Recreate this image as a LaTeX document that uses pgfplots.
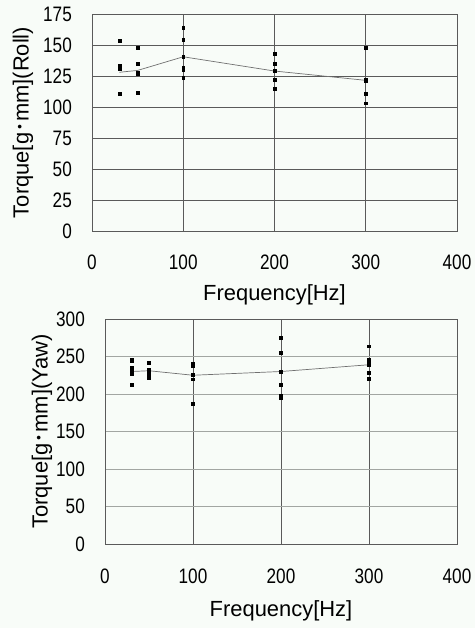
\documentclass[border=0pt]{standalone}
\usepackage{pgfplots}
\pgfplotsset{compat=1.18}
\usepackage{fontspec}
\setmainfont{Liberation Sans}
\newfontfamily\tickfont[FakeStretch=0.82]{Liberation Sans}
\newfontfamily\cjk{Noto Sans CJK JP}
\definecolor{bg}{HTML}{F8FCF8}
\definecolor{gridd}{HTML}{5A5A5A}
\definecolor{gridl}{HTML}{A2A6A2}
\definecolor{avgline}{HTML}{707070}
\pgfplotsset{
  torque/.style={
    scale only axis,
    anchor=south west,
    xmin=0, xmax=400, xtick={0,100,200,300,400},
    ymin=0,
    major tick length=0pt,
    axis line style={gridd, line width=0.7pt},
    axis background/.style={fill=bg},
    /pgf/number format/assume math mode=true,
    tick label style={font=\tickfont\fontsize{21}{21}\selectfont, inner sep=0pt},
    xticklabel style={anchor=center},
    yticklabel style={anchor=east, xshift=-20bp},
    label style={font=\fontsize{22}{22}\selectfont},
    xmajorgrids, ymajorgrids,
    xlabel={Frequency[Hz]},
  },
  pts/.style={only marks, mark=square*, mark size=1.4bp, black},
  avg/.style={avgline, line width=0.7pt, mark=none},
}
\begin{document}
\begin{tikzpicture}
\path[use as bounding box, fill=bg] (0,0) rectangle (475bp,628bp);

% Roll
\begin{axis}[torque,
    at={(92bp,397bp)}, width=365bp, height=217bp,
    ymax=175, ytick={0,25,...,175},
    grid style={gridd, line width=0.6pt},
    xticklabel style={yshift=-31bp},
    ylabel={Torque[g{\cjk ･}mm](Roll)},
    ylabel style={at={(axis description cs:-0.189,0.5)}, anchor=center},
    xlabel style={at={(axis description cs:0.5,-0.295)}, anchor=center},
]
\addplot[pts] coordinates {
  (30,153.5) (30,133.3) (30,131.2) (30,111)
  (50,148) (50,134.7) (50,128) (50,126.4) (50,111.3)
  (100,164) (100,154) (100,140.6) (100,131.7) (100,129.8) (100,123.6)
  (200,142.7) (200,135.2) (200,129) (200,121.8) (200,115)
  (300,148) (300,122.3) (300,121.2) (300,111) (300,103)
};
\addplot[avg] coordinates {(30,128) (50,129.5) (100,140.5) (200,129) (300,121.5)};
\end{axis}

% Yaw
\begin{axis}[torque,
    at={(105bp,84bp)}, width=352bp, height=225bp,
    ymax=300, ytick={0,50,...,300},
    x grid style={gridd, line width=0.6pt},
    y grid style={gridl, line width=0.8pt},
    xticklabel style={yshift=-32bp},
    ylabel={Torque[g{\cjk ･}mm](Yaw)},
    ylabel style={at={(axis description cs:-0.179,0.5)}, anchor=center},
    xlabel style={at={(axis description cs:0.5,-0.296)}, anchor=center},
]
\addplot[pts] coordinates {
  (30,245.8) (30,243.6) (30,235.6) (30,231) (30,226.7) (30,212)
  (50,242) (50,232) (50,229) (50,225.8) (50,221)
  (100,240) (100,237.8) (100,225.3) (100,219.6) (100,186.7)
  (200,274.7) (200,254.7) (200,230.2) (200,212) (200,197.8) (200,194.7)
  (300,263.6) (300,245.3) (300,242.2) (300,239) (300,228.4) (300,220.9)
};
\addplot[avg] coordinates {(30,230) (50,231) (100,225) (200,230) (300,239)};
\end{axis}
\end{tikzpicture}
\end{document}
